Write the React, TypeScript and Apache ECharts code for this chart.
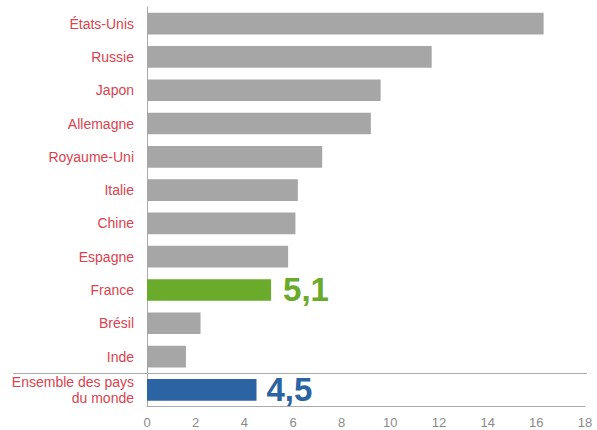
import React, { useEffect, useRef } from "react";
import * as echarts from "echarts";

const categories = [
  "États-Unis",
  "Russie",
  "Japon",
  "Allemagne",
  "Royaume-Uni",
  "Italie",
  "Chine",
  "Espagne",
  "France",
  "Brésil",
  "Inde",
  "Ensemble des pays\ndu monde",
];
const values = [16.3, 11.7, 9.6, 9.2, 7.2, 6.2, 6.1, 5.8, 5.1, 2.2, 1.6, 4.5];
const highlightLabels: Record<string, string> = { France: "5,1", "Ensemble des pays\ndu monde": "4,5" };
const xTicks = [0, 2, 4, 6, 8, 10, 12, 14, 16, 18];

const GRAY = "#a6a6a6";
const GREEN = "#6aab2b";
const BLUE = "#2b63a3";
const RED = "#d9434e";
const FONT = "Liberation Sans, Arial, sans-serif";

export default function App() {
  const ref = useRef<HTMLDivElement>(null);
  useEffect(() => {
    if (!ref.current) return;
    const chart = echarts.init(ref.current, undefined, { renderer: "svg" });
    const data = categories.map((c, i) => {
      const isFr = c === "France";
      const color = isFr ? GREEN : c.startsWith("Ensemble") ? BLUE : GRAY;
      const lbl = highlightLabels[c];
      return {
        value: values[i],
        itemStyle: { color },
        label: lbl
          ? {
              show: true,
              position: "right",
              distance: isFr ? 12 : 10,
              formatter: lbl,
              color,
              fontSize: 33,
              fontWeight: "bold",
              fontFamily: FONT,
            }
          : { show: false },
      };
    });
    chart.setOption({
      animation: false,
      grid: { left: 147, right: 12, top: 7, bottom: 23.5, containLabel: false },
      xAxis: {
        type: "value",
        min: 0,
        max: 18,
        interval: 2,
        axisLine: { show: true, lineStyle: { color: "#aaaaaa", width: 1 } },
        axisTick: { show: false },
        splitLine: { show: false },
        axisLabel: {
          color: "#8a8a8a",
          fontSize: 13,
          margin: 9,
          fontFamily: FONT,
          formatter: (v: number) => (xTicks.includes(v) ? String(v) : ""),
        },
      },
      yAxis: {
        type: "category",
        inverse: true,
        data: categories,
        axisLine: { show: true, lineStyle: { color: "#aaaaaa", width: 1 } },
        axisTick: { show: false },
        axisLabel: {
          color: RED,
          fontSize: 14,
          margin: 13,
          lineHeight: 16,
          fontFamily: FONT,
        },
      },
      series: [
        {
          type: "bar",
          data,
          barCategoryGap: "35%",
        },
      ],
    });
    const y10 = chart.convertToPixel({ yAxisIndex: 0 }, 10) as number;
    const y11 = chart.convertToPixel({ yAxisIndex: 0 }, 11) as number;
    const ySep = Math.round((y10 + y11) / 2) + 0.5;
    chart.setOption({
      graphic: [
        {
          type: "line",
          shape: { x1: 13, y1: ySep, x2: 587, y2: ySep },
          style: { stroke: "#aaaaaa", lineWidth: 1 },
        },
      ],
    });
    return () => chart.dispose();
  }, []);
  return (
    <div
      ref={ref}
      style={{ position: "absolute", left: 0, top: 0, width: 597, height: 430 }}
    />
  );
}
